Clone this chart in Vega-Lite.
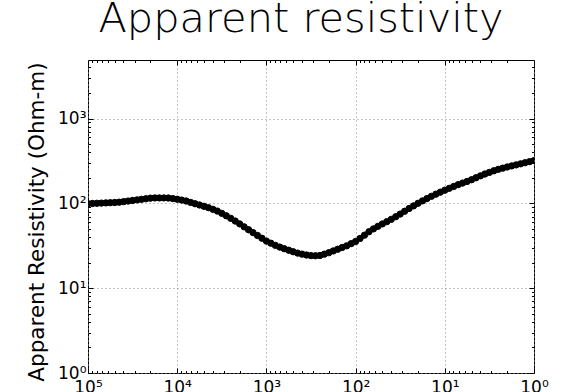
{
  "$schema": "https://vega.github.io/schema/vega-lite/v6.json",
  "width": 446,
  "height": 313,
  "autosize": {"type": "none"},
  "padding": {"left": 88, "top": 60, "right": 35, "bottom": 19},
  "background": "white",
  "config": {
    "view": {"stroke": "black", "strokeWidth": 1},
    "axis": {
      "domain": false,
      "labelFont": "DejaVu Sans",
      "labelFontSize": 17,
      "labelColor": "black",
      "tickColor": "black",
      "labelOverlap": false,
      "labelFlush": false,
      "labelBound": false,
      "gridColor": "#888888",
      "gridDash": [1, 3],
      "gridWidth": 1
    }
  },
  "title": {
    "text": "Apparent resistivity",
    "font": "DejaVu Sans",
    "fontSize": 41.5,
    "fontWeight": 200,
    "color": "black",
    "baseline": "alphabetic",
    "offset": -15,
    "dx": -10
  },
  "data": {
    "values": [
      {"f": 100000, "r": 99.2}, {"f": 89125, "r": 99.7}, {"f": 79433, "r": 100.2}, {"f": 70795, "r": 100.7},
      {"f": 63096, "r": 101.3}, {"f": 56234, "r": 101.8}, {"f": 50119, "r": 102.4}, {"f": 44668, "r": 103.2},
      {"f": 39811, "r": 104.8}, {"f": 35481, "r": 106.5}, {"f": 31623, "r": 108.1}, {"f": 28184, "r": 109.9},
      {"f": 25119, "r": 111.6}, {"f": 22387, "r": 113.3}, {"f": 19953, "r": 115.1}, {"f": 17783, "r": 115.8},
      {"f": 15849, "r": 115.8}, {"f": 14125, "r": 115.8}, {"f": 12589, "r": 115.6}, {"f": 11220, "r": 113.8},
      {"f": 10000, "r": 111.9}, {"f": 8912.5, "r": 109.4}, {"f": 7943.3, "r": 106.6}, {"f": 7079.5, "r": 102.6},
      {"f": 6309.6, "r": 99.0}, {"f": 5623.4, "r": 95.7}, {"f": 5011.9, "r": 92.4}, {"f": 4466.8, "r": 89.0},
      {"f": 3981.1, "r": 85.1}, {"f": 3548.1, "r": 81.1}, {"f": 3162.3, "r": 76.2}, {"f": 2818.4, "r": 71.4},
      {"f": 2511.9, "r": 66.6}, {"f": 2238.7, "r": 61.9}, {"f": 1995.3, "r": 57.3}, {"f": 1778.3, "r": 52.9},
      {"f": 1584.9, "r": 48.9}, {"f": 1412.5, "r": 45.2}, {"f": 1258.9, "r": 41.8}, {"f": 1122.0, "r": 38.8},
      {"f": 1000, "r": 35.9}, {"f": 891.25, "r": 33.9}, {"f": 794.33, "r": 32.0}, {"f": 707.95, "r": 30.5},
      {"f": 630.96, "r": 29.2}, {"f": 562.34, "r": 28.0}, {"f": 501.19, "r": 26.9}, {"f": 446.68, "r": 25.9},
      {"f": 398.11, "r": 25.2}, {"f": 354.81, "r": 24.6}, {"f": 316.23, "r": 24.2}, {"f": 281.84, "r": 24.1},
      {"f": 251.19, "r": 24.3}, {"f": 223.87, "r": 25.2}, {"f": 199.53, "r": 26.2}, {"f": 177.83, "r": 27.5},
      {"f": 158.49, "r": 28.8}, {"f": 141.25, "r": 30.2}, {"f": 125.89, "r": 31.6}, {"f": 112.2, "r": 33.5},
      {"f": 100, "r": 35.5}, {"f": 89.125, "r": 38.6}, {"f": 79.433, "r": 42.2}, {"f": 70.795, "r": 46.3},
      {"f": 63.096, "r": 50.0}, {"f": 56.234, "r": 53.6}, {"f": 50.119, "r": 57.2}, {"f": 44.668, "r": 60.8},
      {"f": 39.811, "r": 64.8}, {"f": 35.481, "r": 69.6}, {"f": 31.623, "r": 74.8}, {"f": 28.184, "r": 80.7},
      {"f": 25.119, "r": 87.0}, {"f": 22.387, "r": 93.4}, {"f": 19.953, "r": 100.2}, {"f": 17.783, "r": 107.0},
      {"f": 15.849, "r": 113.9}, {"f": 14.125, "r": 121.1}, {"f": 12.589, "r": 128.3}, {"f": 11.22, "r": 135.5},
      {"f": 10, "r": 142.9}, {"f": 8.9125, "r": 150.4}, {"f": 7.9433, "r": 158.2}, {"f": 7.0795, "r": 166.3},
      {"f": 6.3096, "r": 173.6}, {"f": 5.6234, "r": 181.3}, {"f": 5.0119, "r": 190.0}, {"f": 4.4668, "r": 200.3},
      {"f": 3.9811, "r": 211.2}, {"f": 3.5481, "r": 221.8}, {"f": 3.1623, "r": 231.8}, {"f": 2.8184, "r": 242.2},
      {"f": 2.5119, "r": 252.0}, {"f": 2.2387, "r": 260.1}, {"f": 1.9953, "r": 268.5}, {"f": 1.7783, "r": 276.3},
      {"f": 1.5849, "r": 284.3}, {"f": 1.4125, "r": 292.7}, {"f": 1.2589, "r": 301.4}, {"f": 1.122, "r": 310.2},
      {"f": 1, "r": 319.4}
    ]
  },
  "layer": [
    {
      "mark": {"type": "line", "color": "black", "strokeWidth": 2, "clip": true},
      "encoding": {
        "x": {
          "field": "f", "type": "quantitative",
          "scale": {"type": "log", "domain": [1, 100000], "reverse": true, "nice": false},
          "axis": {
            "orient": "bottom",
            "title": null,
            "values": [1,2,3,4,5,6,7,8,9,10,20,30,40,50,60,70,80,90,100,200,300,400,500,600,700,800,900,1000,2000,3000,4000,5000,6000,7000,8000,9000,10000,20000,30000,40000,50000,60000,70000,80000,90000,100000],
            "labelExpr": "abs(log(datum.value)/LN10 - round(log(datum.value)/LN10)) < 0.000001 ? '10' + ['⁰','¹','²','³','⁴','⁵'][round(log(datum.value)/LN10)] : ''",
            "labelBaseline": "top",
            "labelPadding": 11,
            "tickSize": {"condition": {"test": "abs(log(datum.value)/LN10 - round(log(datum.value)/LN10)) < 0.000001", "value": -5}, "value": -2.5},
            "gridOpacity": {"condition": {"test": "abs(log(datum.value)/LN10 - round(log(datum.value)/LN10)) < 0.000001", "value": 1}, "value": 0}
          }
        },
        "y": {
          "field": "r", "type": "quantitative",
          "scale": {"type": "log", "domain": [1, 4900], "nice": false},
          "axis": {
            "orient": "left",
            "values": [1,2,3,4,5,6,7,8,9,10,20,30,40,50,60,70,80,90,100,200,300,400,500,600,700,800,900,1000,2000,3000,4000],
            "labelExpr": "abs(log(datum.value)/LN10 - round(log(datum.value)/LN10)) < 0.000001 ? '10' + ['⁰','¹','²','³','⁴','⁵'][round(log(datum.value)/LN10)] : ''",
            "labelAlign": "right",
            "labelBaseline": "middle",
            "labelPadding": 7,
            "tickSize": {"condition": {"test": "abs(log(datum.value)/LN10 - round(log(datum.value)/LN10)) < 0.000001", "value": -5}, "value": -2.5},
            "gridOpacity": {"condition": {"test": "abs(log(datum.value)/LN10 - round(log(datum.value)/LN10)) < 0.000001", "value": 1}, "value": 0},
            "title": "Apparent Resistivity (Ohm-m)",
            "titleFont": "DejaVu Sans",
            "titleFontSize": 21.5,
            "titleFontWeight": "normal",
            "titleColor": "black",
            "titleAngle": -90,
            "titleAlign": "center",
            "titleBaseline": "alphabetic",
            "titleX": -45,
            "titleY": 161.5
          }
        }
      }
    },
    {
      "mark": {"type": "point", "filled": true, "color": "black", "size": 40, "opacity": 1, "stroke": "black", "strokeWidth": 1, "clip": true},
      "encoding": {
        "x": {
          "field": "f", "type": "quantitative",
          "scale": {"type": "log", "domain": [1, 100000], "reverse": true, "nice": false},
          "axis": {
            "orient": "top",
            "title": null,
            "labels": false,
            "grid": false,
            "values": [1,2,3,4,5,6,7,8,9,10,20,30,40,50,60,70,80,90,100,200,300,400,500,600,700,800,900,1000,2000,3000,4000,5000,6000,7000,8000,9000,10000,20000,30000,40000,50000,60000,70000,80000,90000,100000],
            "tickSize": {"condition": {"test": "abs(log(datum.value)/LN10 - round(log(datum.value)/LN10)) < 0.000001", "value": -5}, "value": -2.5}
          }
        },
        "y": {
          "field": "r", "type": "quantitative",
          "scale": {"type": "log", "domain": [1, 4900], "nice": false},
          "axis": {
            "orient": "right",
            "title": null,
            "labels": false,
            "grid": false,
            "values": [1,2,3,4,5,6,7,8,9,10,20,30,40,50,60,70,80,90,100,200,300,400,500,600,700,800,900,1000,2000,3000,4000],
            "tickSize": {"condition": {"test": "abs(log(datum.value)/LN10 - round(log(datum.value)/LN10)) < 0.000001", "value": -5}, "value": -2.5}
          }
        }
      }
    }
  ],
  "resolve": {"axis": {"x": "independent", "y": "independent"}}
}
